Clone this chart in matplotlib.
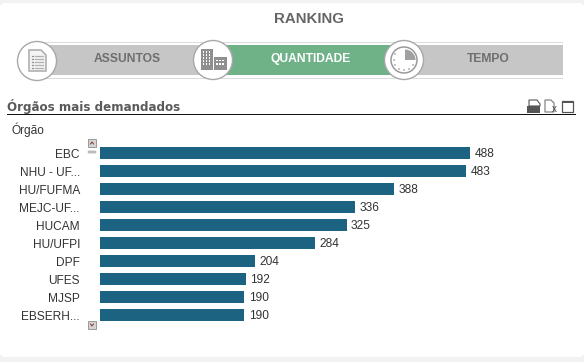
import matplotlib
matplotlib.use('Agg')
import matplotlib.pyplot as plt
from matplotlib.patches import Rectangle, Circle, FancyBboxPatch, Wedge, Polygon

W, H = 584, 362

orgaos = ['EBC', 'NHU - UF...', 'HU/FUFMA', 'MEJC-UF...', 'HUCAM', 'HU/UFPI',
          'DPF', 'UFES', 'MJSP', 'EBSERH...']
quantidade = [488, 483, 388, 336, 325, 284, 204, 192, 190, 190]

abas = ['ASSUNTOS', 'QUANTIDADE', 'TEMPO']

plt.rcParams['font.family'] = ['Liberation Sans', 'DejaVu Sans']

fig = plt.figure(figsize=(W / 100, H / 100), dpi=100, facecolor='#f1f3f3')

# camada de fundo in pixel, y verso il basso
bg = fig.add_axes([0, 0, 1, 1])
bg.set_xlim(0, W)
bg.set_ylim(H, 0)
bg.axis('off')


def rect(x, y, w, h, color, **kw):
    bg.add_patch(Rectangle((x, y), w, h, facecolor=color, edgecolor='none', **kw))


bg.add_patch(FancyBboxPatch((0, 3), 584, 354, boxstyle='round,pad=0,rounding_size=5',
                            facecolor='white', edgecolor='none'))

bg.text(309, 19, 'RANKING', ha='center', va='center', fontsize=10.8, fontweight='bold', color='#666666')

# barra delle schede
rect(40, 42.2, 523, 1.2, '#dcdcdc')
rect(40, 77.8, 523, 1.2, '#dcdcdc')
rect(40, 45, 523, 30, '#c6c6c6')
rect(215, 45, 190, 30, '#6fb288')
bg.text(127, 59, abas[0], ha='center', va='center', fontsize=8.7, fontweight='bold', color='#6e6e6e')
bg.text(311, 59, abas[1], ha='center', va='center', fontsize=8.7, fontweight='bold', color='white')
bg.text(488.5, 59, abas[2], ha='center', va='center', fontsize=8.7, fontweight='bold', color='#6e6e6e')

for cx, cy in [(37, 61), (213, 60), (404, 60)]:
    bg.add_patch(Circle((cx, cy), 19.5, facecolor='white', edgecolor='#a8a8a8', lw=1, zorder=3))

# icona documento
bg.add_patch(Polygon([(29, 50), (41, 50), (46, 55), (46, 71), (29, 71)], closed=True,
                     facecolor='#f4f4f4', edgecolor='#b0b0b0', lw=1.2, zorder=4))
for yy in [56, 59, 62, 65, 68]:
    bg.plot([32, 33], [yy, yy], color='#909090', lw=0.9, zorder=5)
    bg.plot([35, 43], [yy, yy], color='#b0b0b0', lw=0.9, zorder=5)

# icona edifici
bg.add_patch(Rectangle((201, 49), 11.5, 21, facecolor='#8f8f8f', edgecolor='none', zorder=4))
bg.add_patch(Rectangle((214, 57), 12.5, 13, facecolor='#8f8f8f', edgecolor='none', zorder=4))
for yy in range(51, 64, 3):
    for xx in [202.5, 205.5, 208.5]:
        bg.add_patch(Rectangle((xx, yy), 1.6, 1.6, facecolor='white', edgecolor='none', zorder=5))
for yy in [59.5, 63]:
    for xx in [216, 219, 222]:
        bg.add_patch(Rectangle((xx, yy), 1.6, 1.6, facecolor='white', edgecolor='none', zorder=5))

# icona orologio
bg.add_patch(Circle((404, 60), 13, facecolor='white', edgecolor='#9a9a9a', lw=1.1, zorder=4))
bg.add_patch(Wedge((405, 60), 10.5, 270, 0, facecolor='#a0a0a0', edgecolor='none', zorder=5))
for dx, dy in [(-9, -6), (-10, 0), (-9, 5), (-5, 9), (0, 10), (5, 9), (9, 5)]:
    bg.add_patch(Circle((404 + dx, 60 + dy), 0.7, facecolor='#707070', edgecolor='none', zorder=5))

# intestazione
bg.text(7, 106, 'Órgãos mais demandados', ha='left', va='center', fontsize=8.55,
        fontweight='bold', color='#5a5a5a', family=['DejaVu Sans'])
rect(7, 113.7, 569, 1.1, '#111111')
bg.text(11, 130, 'Órgão', ha='left', va='center', fontsize=8.6, color='#333333')

# icone in alto a destra
bg.add_patch(Rectangle((527, 106), 13, 7, facecolor='#555555', edgecolor='none'))
bg.add_patch(Polygon([(529, 100), (537, 100), (540, 104), (540, 106), (529, 106)], closed=True,
                     facecolor='white', edgecolor='#555555', lw=0.8))
bg.add_patch(Polygon([(545, 100), (551, 100), (554, 103), (554, 112), (545, 112)], closed=True,
                     facecolor='white', edgecolor='#777777', lw=0.8))
bg.text(554, 109, 'x', ha='center', va='center', fontsize=7, color='#444444')
bg.add_patch(Rectangle((562, 101), 11, 11, facecolor='white', edgecolor='#555555', lw=0.9))
rect(562, 100.5, 11, 2, '#555555')

# scrollbar
for yy in [139, 321]:
    bg.add_patch(Rectangle((88, yy), 8, 8, facecolor='#d4d4d4', edgecolor='#999999', lw=0.7))
bg.add_patch(FancyBboxPatch((88, 151), 8, 2, boxstyle='round,pad=0,rounding_size=1',
                            facecolor='#c8c8c8', edgecolor='#aaaaaa', lw=0.5))
bg.plot([90.5, 92, 93.5], [144, 142, 144], color='#8a3030', lw=0.7)
bg.plot([90.5, 92, 93.5], [324, 326, 324], color='#8a3030', lw=0.7)

# grafico a barre: 144 px = 190 unita
top, bottom = 144, 324
left = 100
right = 570
ax = fig.add_axes([left / W, 1 - bottom / H, (right - left) / W, (bottom - top) / H])
ax.patch.set_alpha(0)
ax.set_xlim(0, (right - left) / 0.7585)
ax.set_ylim(len(orgaos) - 0.5, -0.5)
ax.barh(range(len(orgaos)), quantidade, height=12 / 18, color='#1c6382')
ax.set_yticks(range(len(orgaos)), orgaos, fontsize=8.6, color='#333333')
ax.tick_params(axis='y', length=0, pad=14.4)
ax.set_xticks([])
for s in ax.spines.values():
    s.set_visible(False)
for i, v in enumerate(quantidade):
    ax.annotate(str(v), (v, i), xytext=(4.5, -1), textcoords='offset pixels', va='center',
                ha='left', fontsize=8.6, color='#333333')

fig.savefig('out.png', dpi=100, facecolor=fig.get_facecolor())
